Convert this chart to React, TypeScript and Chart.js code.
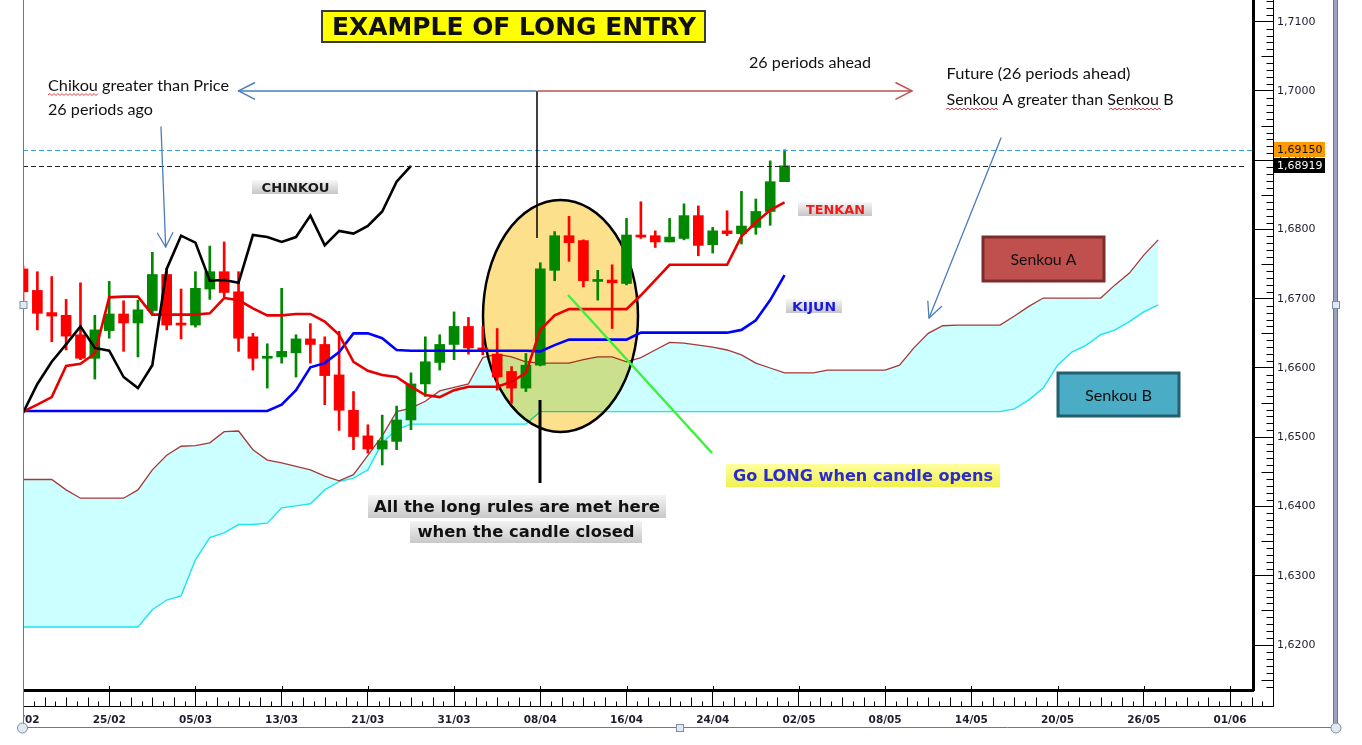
import React, { useEffect, useRef } from 'react';
import { Chart, registerables } from 'chart.js';

Chart.register(...registerables);

// ---------------- data ----------------
const DATE_LABELS = ['15/02', '25/02', '05/03', '13/03', '21/03', '31/03', '08/04', '16/04', '24/04', '02/05', '08/05', '14/05', '20/05', '26/05', '01/06'];
const PERIODS_PER_LABEL = 6;
const PRICE_TICKS = [1.62, 1.63, 1.64, 1.65, 1.66, 1.67, 1.68, 1.69, 1.7, 1.71];

const OPEN = [
  1.6743, 1.6712, 1.6680, 1.6676, 1.6648, 1.6614, 1.6654, 1.6678, 1.6665, 1.6683,
  1.6735, 1.6663, 1.6662, 1.6714, 1.6739, 1.6710, 1.6645, 1.6614, 1.6616, 1.6622,
  1.6642, 1.6634, 1.6590, 1.6539, 1.6502, 1.6483, 1.6494, 1.6525, 1.6577, 1.6608,
  1.6634, 1.6660, 1.6629, 1.6620, 1.6595, 1.6571, 1.6604, 1.6741, 1.6791, 1.6784,
  1.6725, 1.6727, 1.6722, 1.6792, 1.6791, 1.6782, 1.6787, 1.6820, 1.6778, 1.6798,
  1.6794, 1.6803, 1.6826, 1.6869,
];
const HIGH = [
  1.6748, 1.6739, 1.6732, 1.6699, 1.6723, 1.6676, 1.6725, 1.6697, 1.6698, 1.6767,
  1.6744, 1.6714, 1.6739, 1.6776, 1.6782, 1.6739, 1.6650, 1.6635, 1.6715, 1.6648,
  1.6664, 1.6645, 1.6653, 1.6566, 1.6518, 1.6532, 1.6545, 1.6593, 1.6645, 1.6648,
  1.6681, 1.6673, 1.6660, 1.6657, 1.6602, 1.6621, 1.6752, 1.6797, 1.6819, 1.6785,
  1.6741, 1.6749, 1.6816, 1.6840, 1.6798, 1.6816, 1.6837, 1.6834, 1.6803, 1.6827,
  1.6855, 1.6844, 1.6899, 1.6915,
];
const LOW = [
  1.6691, 1.6655, 1.6638, 1.6626, 1.6612, 1.6584, 1.6643, 1.6624, 1.6616, 1.6676,
  1.6655, 1.6642, 1.6659, 1.6699, 1.6703, 1.6624, 1.6597, 1.6571, 1.6607, 1.6587,
  1.6607, 1.6547, 1.6510, 1.6482, 1.6477, 1.6460, 1.6482, 1.6511, 1.6559, 1.6597,
  1.6612, 1.6620, 1.6619, 1.6568, 1.6549, 1.6566, 1.6603, 1.6726, 1.6754, 1.6717,
  1.6698, 1.6657, 1.6720, 1.6787, 1.6774, 1.6782, 1.6785, 1.6762, 1.6766, 1.6791,
  1.6779, 1.6793, 1.6806, 1.6869,
];
const CLOSE = [
  1.6710, 1.6679, 1.6675, 1.6646, 1.6614, 1.6655, 1.6678, 1.6665, 1.6684, 1.6735,
  1.6662, 1.6662, 1.6715, 1.6739, 1.6709, 1.6643, 1.6614, 1.6616, 1.6624, 1.6642,
  1.6634, 1.6589, 1.6539, 1.6501, 1.6483, 1.6495, 1.6525, 1.6577, 1.6609, 1.6634,
  1.6660, 1.6629, 1.6625, 1.6587, 1.6571, 1.6604, 1.6743, 1.6791, 1.6781, 1.6726,
  1.6727, 1.6723, 1.6792, 1.6789, 1.6782, 1.6789, 1.6820, 1.6777, 1.6798, 1.6794,
  1.6805, 1.6826, 1.6869, 1.68919,
];
const TENKAN = [
  1.6537, 1.6547, 1.6558, 1.6603, 1.6606, 1.6621, 1.6702, 1.6703, 1.6703, 1.6677,
  1.6677, 1.6677, 1.6677, 1.6679, 1.6701, 1.6698, 1.6686, 1.6676, 1.6676, 1.6678,
  1.6678, 1.6667, 1.6648, 1.6609, 1.6596, 1.6590, 1.6587, 1.6573, 1.6561, 1.6558,
  1.6568, 1.6573, 1.6573, 1.6573, 1.6580, 1.6593, 1.6655, 1.6676, 1.6685, 1.6685,
  1.6685, 1.6685, 1.6685, 1.6705, 1.6727, 1.6749, 1.6749, 1.6749, 1.6749, 1.6749,
  1.6790, 1.6810, 1.6828, 1.6839,
];
const KIJUN = [
  1.6538, 1.6538, 1.6538, 1.6538, 1.6538, 1.6538, 1.6538, 1.6538, 1.6538, 1.6538,
  1.6538, 1.6538, 1.6538, 1.6538, 1.6538, 1.6538, 1.6538, 1.6538, 1.6547, 1.6568,
  1.6601, 1.6607, 1.6623, 1.6650, 1.6650, 1.6643, 1.6626, 1.6625, 1.6625, 1.6625,
  1.6625, 1.6625, 1.6625, 1.6625, 1.6625, 1.6625, 1.6624, 1.6633, 1.6641, 1.6641,
  1.6641, 1.6641, 1.6641, 1.6651, 1.6651, 1.6651, 1.6651, 1.6651, 1.6651, 1.6651,
  1.6655, 1.6669, 1.6698, 1.6734,
];
const CHIKOU = [
  1.6535, 1.6577, 1.6609, 1.6634, 1.6660, 1.6629, 1.6625, 1.6587, 1.6571, 1.6604,
  1.6743, 1.6791, 1.6781, 1.6726, 1.6727, 1.6723, 1.6792, 1.6789, 1.6782, 1.6789,
  1.6820, 1.6777, 1.6798, 1.6794, 1.6805, 1.6826, 1.6869, 1.68919,
];
const SENKOU_A = [
  1.6439, 1.6439, 1.6439, 1.6424, 1.6412, 1.6412, 1.6412, 1.6412, 1.6424, 1.6453,
  1.6474, 1.6487, 1.6488, 1.6492, 1.6508, 1.6509, 1.6482, 1.6467, 1.6463, 1.6458,
  1.6453, 1.6444, 1.6437, 1.6446, 1.6474, 1.6502, 1.6537, 1.6542, 1.6552, 1.6567,
  1.6572, 1.6577, 1.6615, 1.6620, 1.6616, 1.6609, 1.6607, 1.6607, 1.6607, 1.6612,
  1.6616, 1.6616, 1.6609, 1.6615, 1.6626, 1.6637, 1.6636, 1.6633, 1.6630, 1.6626,
  1.6619, 1.6607, 1.6600, 1.6593, 1.6593, 1.6593, 1.6597, 1.6597, 1.6597, 1.6597,
  1.6597, 1.6604, 1.6629, 1.6650, 1.6661, 1.6662, 1.6662, 1.6662, 1.6662, 1.6675,
  1.6689, 1.6701, 1.6701, 1.6701, 1.6701, 1.6701, 1.6720, 1.6737, 1.6763, 1.6785,
];
const SENKOU_B = [
  1.6226, 1.6226, 1.6226, 1.6226, 1.6226, 1.6226, 1.6226, 1.6226, 1.6226, 1.6251,
  1.6265, 1.6271, 1.6323, 1.6355, 1.6362, 1.6374, 1.6374, 1.6376, 1.6398, 1.6401,
  1.6404, 1.6424, 1.6436, 1.6441, 1.6453, 1.6492, 1.6511, 1.6519, 1.6519, 1.6519,
  1.6519, 1.6519, 1.6519, 1.6519, 1.6519, 1.6519, 1.6537, 1.6537, 1.6537, 1.6537,
  1.6537, 1.6537, 1.6537, 1.6537, 1.6537, 1.6537, 1.6537, 1.6537, 1.6537, 1.6537,
  1.6537, 1.6537, 1.6537, 1.6537, 1.6537, 1.6537, 1.6537, 1.6537, 1.6537, 1.6537,
  1.6537, 1.6537, 1.6537, 1.6537, 1.6537, 1.6537, 1.6537, 1.6537, 1.6537, 1.6541,
  1.6554, 1.6571, 1.6604, 1.6623, 1.6633, 1.6648, 1.6655, 1.6667, 1.6681, 1.6691,
];
const LAST_HIGH = 1.6915;
const LAST_CLOSE = 1.68919;

const X_MIN = 0;
const X_MAX = 85.6;
const Y_MIN = 1.61351;
const Y_MAX = 1.71313;

// ---------------- drawing helpers ----------------
type Ctx = CanvasRenderingContext2D;

function line(ctx: Ctx, x1: number, y1: number, x2: number, y2: number) {
  ctx.beginPath();
  ctx.moveTo(x1, y1);
  ctx.lineTo(x2, y2);
  ctx.stroke();
}

function fitText(ctx: Ctx, text: string, x: number, y: number, font: string, color: string, width: number, align: CanvasTextAlign = 'left') {
  ctx.save();
  ctx.font = font;
  ctx.fillStyle = color;
  ctx.textBaseline = 'alphabetic';
  ctx.textAlign = align;
  const w = ctx.measureText(text).width;
  const sx = width > 0 ? width / w : 1;
  ctx.translate(x, y);
  ctx.scale(sx, 1);
  ctx.fillText(text, 0, 0);
  ctx.restore();
}

function arrow(ctx: Ctx, x1: number, y1: number, x2: number, y2: number, color: string, lw: number, head: number, ang: number) {
  ctx.save();
  ctx.strokeStyle = color;
  ctx.lineWidth = lw;
  ctx.lineCap = 'round';
  ctx.lineJoin = 'round';
  line(ctx, x1, y1, x2, y2);
  const a = Math.atan2(y2 - y1, x2 - x1);
  ctx.beginPath();
  ctx.moveTo(x2 - head * Math.cos(a - ang), y2 - head * Math.sin(a - ang));
  ctx.lineTo(x2, y2);
  ctx.lineTo(x2 - head * Math.cos(a + ang), y2 - head * Math.sin(a + ang));
  ctx.stroke();
  ctx.restore();
}

function wavy(ctx: Ctx, x1: number, x2: number, y: number) {
  ctx.save();
  ctx.strokeStyle = '#e23a3a';
  ctx.lineWidth = 1;
  ctx.beginPath();
  ctx.moveTo(x1, y);
  let up = true;
  for (let x = x1 + 2; x <= x2; x += 2) {
    ctx.lineTo(x, up ? y - 1.5 : y + 0.5);
    up = !up;
  }
  ctx.stroke();
  ctx.restore();
}

function gradBox(ctx: Ctx, x: number, y: number, w: number, h: number, c1: string, c2: string, stroke?: string) {
  const g = ctx.createLinearGradient(0, y, 0, y + h);
  g.addColorStop(0, c1);
  g.addColorStop(1, c2);
  ctx.fillStyle = g;
  ctx.fillRect(x, y, w, h);
  if (stroke) {
    ctx.strokeStyle = stroke;
    ctx.lineWidth = 1;
    ctx.strokeRect(x + 0.5, y + 0.5, w - 1, h - 1);
  }
}

const overlayPlugin = {
  id: 'ichimokuOverlay',
  afterDatasetDraw(chart: any, args: any) {
    if (args.index !== 1) return;
    const ctx: Ctx = chart.ctx;
    ctx.save();
    ctx.beginPath();
    ctx.ellipse(560.5, 316, 77.5, 116, 0, 0, Math.PI * 2);
    ctx.globalCompositeOperation = 'multiply';
    ctx.fillStyle = '#fde08c';
    ctx.fill();
    ctx.globalCompositeOperation = 'source-over';
    ctx.lineWidth = 2.5;
    ctx.strokeStyle = '#000';
    ctx.stroke();
    ctx.restore();
  },
  afterDatasetsDraw(chart: any) {
    const ctx: Ctx = chart.ctx;
    const ys = chart.scales.y;
    const ca = chart.chartArea;
    ctx.save();
    ctx.lineWidth = 1;
    ctx.setLineDash([5, 3]);
    const yH = Math.round(ys.getPixelForValue(LAST_HIGH)) + 0.5;
    ctx.strokeStyle = '#3a9ddc';
    line(ctx, ca.left, yH, ca.right, yH);
    const yC = Math.round(ys.getPixelForValue(LAST_CLOSE)) + 0.5;
    ctx.strokeStyle = '#222';
    line(ctx, ca.left, yC, ca.right - 8, yC);
    ctx.restore();
  },
  afterDraw(chart: any) {
    const ctx: Ctx = chart.ctx;
    const xs = chart.scales.x;
    const ys = chart.scales.y;
    const ca = chart.chartArea;
    const baseY = 706.5;
    const outerX = 1273.5;

    // ---- axis frame lines and minor ticks ----
    ctx.save();
    ctx.strokeStyle = '#000';
    ctx.lineWidth = 1;
    line(ctx, ca.left, baseY, outerX, baseY);
    line(ctx, outerX, 0, outerX, baseY);
    const minorStep = PERIODS_PER_LABEL / 8;
    for (let k = 1; k < 200; k++) {
      const px = Math.round(xs.getPixelForValue(k * minorStep)) + 0.5;
      if (px > outerX) break;
      if (k % 8 === 0) continue;
      const h = k % 2 ? 5 : 9;
      line(ctx, px, baseY, px, baseY - h);
    }
    // major x ticks poke slightly above the axis line
    for (let k = 0; k < 40; k++) {
      const px = Math.round(xs.getPixelForValue(k * PERIODS_PER_LABEL)) + 0.5;
      if (px > ca.right) break;
      line(ctx, px, ca.bottom - 4, px, ca.bottom);
    }
    const mStart = Math.ceil(Y_MIN * 1000);
    const mEnd = Math.floor(Y_MAX * 1000);
    for (let m = mStart; m <= mEnd; m++) {
      if (m % 10 === 0) continue;
      const py = Math.round(ys.getPixelForValue(m / 1000)) + 0.5;
      const len = m % 5 === 0 ? 12 : 7;
      line(ctx, outerX - len, py, outerX, py);
    }
    ctx.restore();

    // ---- price tags ----
    ctx.save();
    const yH = ys.getPixelForValue(LAST_HIGH);
    const yC = ys.getPixelForValue(LAST_CLOSE);
    ctx.fillStyle = '#ff9900';
    ctx.fillRect(1274, Math.round(yH) - 8, 51, 15);
    ctx.fillStyle = '#000';
    ctx.fillRect(1274, Math.round(yC) - 8, 51, 15);
    ctx.font = '11px "DejaVu Sans"';
    ctx.textBaseline = 'middle';
    ctx.textAlign = 'left';
    ctx.fillStyle = '#111';
    ctx.fillText(LAST_HIGH.toFixed(5).replace('.', ','), 1277, Math.round(yH));
    ctx.fillStyle = '#fff';
    ctx.fillText(LAST_CLOSE.toFixed(5).replace('.', ','), 1277, Math.round(yC));
    ctx.restore();

    // ---- vertical marker lines ----
    const y170 = ys.getPixelForValue(1.7);
    ctx.save();
    ctx.strokeStyle = '#000';
    ctx.lineWidth = 1.5;
    line(ctx, 537, y170, 537, 238);
    ctx.lineWidth = 3;
    line(ctx, 540, 400, 540, 483);
    ctx.restore();

    // ---- arrows ----
    arrow(ctx, 536, y170, 238.5, y170, '#4a7ebb', 1.5, 18, 0.47);
    arrow(ctx, 538, y170, 912, y170, '#c0504d', 1.5, 18, 0.47);
    arrow(ctx, 161, 127, 165.7, 247, '#4a7ebb', 1.3, 16, 0.5);
    arrow(ctx, 1001, 138, 929, 318, '#4a7ebb', 1.3, 17, 0.45);
    ctx.save();
    ctx.strokeStyle = '#3ef03e';
    ctx.lineWidth = 2.5;
    line(ctx, 568, 295, 712, 453);
    ctx.restore();

    // ---- title ----
    ctx.save();
    ctx.fillStyle = '#ffff00';
    ctx.fillRect(322, 11, 383, 31);
    ctx.strokeStyle = '#3a3a3a';
    ctx.lineWidth = 2;
    ctx.strokeRect(322, 11, 383, 31);
    ctx.restore();
    fitText(ctx, 'EXAMPLE OF LONG ENTRY', 514, 35, 'bold 24px "DejaVu Sans"', '#111', 364, 'center');

    // ---- free text ----
    const tf = '15px Lato';
    fitText(ctx, 'Chikou greater than Price', 48, 91, tf, '#111', 181);
    fitText(ctx, '26 periods ago', 48, 115, tf, '#111', 105);
    fitText(ctx, '26 periods ahead', 749, 68, tf, '#111', 122);
    fitText(ctx, 'Future (26 periods ahead)', 946.5, 79, tf, '#111', 184);
    fitText(ctx, 'Senkou A greater than Senkou B', 946.5, 105, tf, '#111', 227);
    wavy(ctx, 48, 98, 95);
    wavy(ctx, 946, 999, 109.5);
    wavy(ctx, 1109, 1162, 109.5);

    // ---- line labels ----
    const lf = 'bold 12.5px "DejaVu Sans"';
    ctx.save();
    gradBox(ctx, 252, 180, 86, 14, '#f7f7f7', '#c6c6c6');
    gradBox(ctx, 798, 202, 74, 14, '#f7f7f7', '#c6c6c6');
    gradBox(ctx, 786, 299, 56, 14, '#f7f7f7', '#c6c6c6');
    ctx.restore();
    fitText(ctx, 'CHINKOU', 295.5, 192, lf, '#1a1a1a', 68, 'center');
    fitText(ctx, 'TENKAN', 835.5, 214, lf, '#ee1b1b', 59, 'center');
    fitText(ctx, 'KIJUN', 814, 311, lf, '#1b1be0', 44, 'center');

    // ---- Senkou boxes ----
    ctx.save();
    ctx.fillStyle = '#c0504d';
    ctx.fillRect(983, 237, 121, 44);
    ctx.strokeStyle = '#7a2e2c';
    ctx.lineWidth = 3;
    ctx.strokeRect(983, 237, 121, 44);
    ctx.fillStyle = '#4bacc6';
    ctx.fillRect(1058, 373, 121, 43);
    ctx.strokeStyle = '#235f6f';
    ctx.strokeRect(1058, 373, 121, 43);
    ctx.restore();
    fitText(ctx, 'Senkou A', 1043.5, 265, tf, '#111', 66, 'center');
    fitText(ctx, 'Senkou B', 1118.5, 401, tf, '#111', 67, 'center');

    // ---- callouts ----
    const cf = 'bold 15px "DejaVu Sans"';
    ctx.save();
    gradBox(ctx, 368, 495, 298, 23, '#f4f4f4', '#c8c8c8');
    gradBox(ctx, 410, 521, 232, 22, '#f4f4f4', '#c8c8c8');
    gradBox(ctx, 726, 464, 274, 23, '#ffffa0', '#f0f050');
    ctx.restore();
    fitText(ctx, 'All the long rules are met here', 517, 512, cf, '#111', 286, 'center');
    fitText(ctx, 'when the candle closed', 526, 537, cf, '#111', 217, 'center');
    fitText(ctx, 'Go LONG when candle opens', 863, 481, cf, '#2a2ad0', 260, 'center');

    // ---- picture frame & handles ----
    ctx.save();
    ctx.fillStyle = '#fff';
    ctx.fillRect(0, 0, 23, 745);
    ctx.strokeStyle = '#5b7bb0';
    ctx.lineWidth = 1;
    line(ctx, 23.5, 0, 23.5, 728);
    line(ctx, 23, 727.5, 1336, 727.5);
    ctx.fillStyle = '#9aa3c0';
    ctx.fillRect(1333, 0, 5, 728);
    ctx.strokeStyle = '#6b7699';
    line(ctx, 1333.5, 0, 1333.5, 728);
    line(ctx, 1337.5, 0, 1337.5, 728);
    const circle = (cx: number, cy: number) => {
      ctx.beginPath();
      ctx.arc(cx, cy, 5, 0, Math.PI * 2);
      ctx.fillStyle = '#dfeaf2';
      ctx.fill();
      ctx.strokeStyle = '#7d8ea6';
      ctx.stroke();
    };
    const square = (cx: number, cy: number) => {
      ctx.fillStyle = '#dfeaf2';
      ctx.fillRect(cx - 3.5, cy - 3.5, 7, 7);
      ctx.strokeStyle = '#7d8ea6';
      ctx.strokeRect(cx - 3.5, cy - 3.5, 7, 7);
    };
    circle(22.5, 728);
    circle(1336, 728);
    square(680, 728);
    square(23.5, 305);
    square(1336, 305);
    ctx.restore();
  },
};

export default function App() {
  const canvasRef = useRef<HTMLCanvasElement>(null);

  useEffect(() => {
    const canvas = canvasRef.current;
    if (!canvas) return;
    Chart.defaults.font.family = '"DejaVu Sans"';

    const candleColors = OPEN.map((o, i) => (CLOSE[i] >= o ? '#008800' : '#ff0000'));
    const toPoints = (arr: number[]) => arr.map((v, i) => ({ x: i, y: v }));
    const dateTicks = DATE_LABELS.map((_, k) => k * PERIODS_PER_LABEL);

    const chart = new Chart(canvas, {
      type: 'bar',
      data: {
        datasets: [
          {
            type: 'line',
            label: 'Senkou B',
            data: toPoints(SENKOU_B),
            borderColor: '#1fe4f0',
            borderWidth: 1.4,
            pointRadius: 0,
            tension: 0,
            fill: false,
            order: 10,
          } as any,
          {
            type: 'line',
            label: 'Senkou A',
            data: toPoints(SENKOU_A),
            borderColor: '#a33a36',
            borderWidth: 1.3,
            pointRadius: 0,
            tension: 0,
            fill: '-1',
            backgroundColor: '#ccffff',
            order: 9,
          } as any,
          {
            type: 'bar',
            label: 'Wicks',
            data: LOW.map((l, i) => ({ x: i, y: [l, HIGH[i]] })),
            backgroundColor: candleColors,
            barThickness: 2,
            grouped: false,
            order: 6,
          } as any,
          {
            type: 'bar',
            label: 'Bodies',
            data: OPEN.map((o, i) => ({ x: i, y: [o, CLOSE[i]] })),
            backgroundColor: candleColors,
            barThickness: 10,
            minBarLength: 2,
            grouped: false,
            order: 5,
          } as any,
          {
            type: 'line',
            label: 'Kijun',
            data: toPoints(KIJUN),
            borderColor: '#0000ff',
            borderWidth: 2.6,
            pointRadius: 0,
            tension: 0,
            fill: false,
            order: 3,
          } as any,
          {
            type: 'line',
            label: 'Tenkan',
            data: toPoints(TENKAN),
            borderColor: '#e80000',
            borderWidth: 2.6,
            pointRadius: 0,
            tension: 0,
            fill: false,
            order: 2,
          } as any,
          {
            type: 'line',
            label: 'Chikou',
            data: toPoints(CHIKOU),
            borderColor: '#000000',
            borderWidth: 2.6,
            pointRadius: 0,
            tension: 0,
            fill: false,
            order: 1,
          } as any,
        ],
      },
      options: {
        responsive: false,
        maintainAspectRatio: false,
        animation: false,
        devicePixelRatio: 1,
        layout: { padding: { left: 23, top: 0, right: 0, bottom: 0 } },
        plugins: {
          legend: { display: false },
          tooltip: { enabled: false },
          title: { display: false },
          filler: { drawTime: 'beforeDatasetsDraw' },
        },
        scales: {
          x: {
            type: 'linear',
            position: 'bottom',
            min: X_MIN,
            max: X_MAX,
            offset: false,
            afterBuildTicks: (s: any) => {
              s.ticks = dateTicks.map((v) => ({ value: v }));
            },
            afterFit: (s: any) => {
              s.height = 55;
              s.paddingLeft = 0;
              s.paddingRight = 0;
            },
            ticks: {
              autoSkip: false,
              maxRotation: 0,
              minRotation: 0,
              padding: 7,
              color: '#1c1c2e',
              font: { family: '"DejaVu Sans"', size: 10.5, weight: 'bold' },
              callback: (_v: any, index: number) => DATE_LABELS[index] ?? '',
            },
            grid: { drawOnChartArea: false, drawTicks: true, tickLength: 17, color: '#000', lineWidth: 1, offset: false },
            border: { display: true, color: '#000', width: 3 },
          },
          y: {
            type: 'linear',
            position: 'right',
            min: Y_MIN,
            max: Y_MAX,
            afterBuildTicks: (s: any) => {
              s.ticks = PRICE_TICKS.map((v) => ({ value: v }));
            },
            afterFit: (s: any) => {
              s.width = 109;
              s.paddingTop = 0;
              s.paddingBottom = 0;
            },
            ticks: {
              padding: 4,
              color: '#1c1c2e',
              font: { family: '"DejaVu Sans"', size: 11 },
              callback: (v: any) => Number(v).toFixed(4).replace('.', ','),
            },
            grid: { drawOnChartArea: false, drawTicks: true, tickLength: 20, color: '#000', lineWidth: 1 },
            border: { display: true, color: '#000', width: 3 },
          },
        },
      } as any,
      plugins: [overlayPlugin],
    });

    return () => {
      chart.destroy();
    };
  }, []);

  return (
    <div style={{ position: 'absolute', left: 0, top: 0, width: 1362, height: 745, background: '#fff' }}>
      <canvas ref={canvasRef} width={1362} height={745} style={{ display: 'block', width: 1362, height: 745 }} />
    </div>
  );
}
